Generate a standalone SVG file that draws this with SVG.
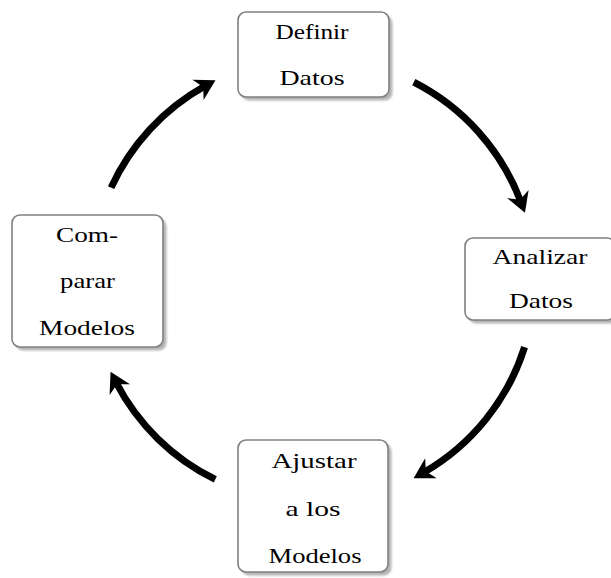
<svg xmlns="http://www.w3.org/2000/svg" width="611" height="578" viewBox="0 0 611 578">
<style>
.box{fill:#fff;stroke:#808080;stroke-width:1.6}
.shadow{fill:#b3b3b3}
.lbl{font-family:"Liberation Serif","DejaVu Serif",serif;font-size:22px;fill:#000;text-anchor:middle}
.arc{fill:none;stroke:#000;stroke-width:7;stroke-linecap:butt}
</style>
<defs>
<filter id="blur" x="-10%" y="-10%" width="120%" height="120%"><feGaussianBlur stdDeviation="1"/></filter>
<marker id="head" markerUnits="userSpaceOnUse" viewBox="-8 -13 24 26" markerWidth="24" markerHeight="26" refX="2" refY="0" orient="auto">
<path d="M-6,-11.5 L14,0 L-6,11.5 L0,0 Z" fill="#000"/>
</marker>
</defs>
<rect width="611" height="578" fill="#fff"/>
<g id="connectors">
<path class="arc" d="M413.8,82.2 A222,222 0 0 1 520.7,201.5" marker-end="url(#head)"/>
<path class="arc" d="M524.6,347.1 A222,222 0 0 1 424,472.3" marker-end="url(#head)"/>
<path class="arc" d="M215.3,479.4 A222,222 0 0 1 116.1,382.5" marker-end="url(#head)"/>
<path class="arc" d="M111.1,187.6 A222,222 0 0 1 205,86" marker-end="url(#head)"/>
</g>
<g id="node-definir">
<rect class="shadow" x="241.5" y="15.5" width="151" height="85" rx="8" filter="url(#blur)"/>
<rect class="box" x="238" y="12" width="151" height="85" rx="8"/>
<text class="lbl" x="312" y="38.5" textLength="73" lengthAdjust="spacingAndGlyphs">Definir</text>
<text class="lbl" x="312" y="85" textLength="65" lengthAdjust="spacingAndGlyphs">Datos</text>
</g>
<g id="node-analizar">
<rect class="shadow" x="468.5" y="241.5" width="150" height="82" rx="8" filter="url(#blur)"/>
<rect class="box" x="465" y="238" width="150" height="82" rx="8"/>
<text class="lbl" x="540" y="264" textLength="95" lengthAdjust="spacingAndGlyphs">Analizar</text>
<text class="lbl" x="541" y="308" textLength="64" lengthAdjust="spacingAndGlyphs">Datos</text>
</g>
<g id="node-ajustar">
<rect class="shadow" x="241.5" y="443.5" width="150" height="132" rx="8" filter="url(#blur)"/>
<rect class="box" x="238" y="440" width="150" height="132" rx="8"/>
<text class="lbl" x="314" y="468" textLength="85" lengthAdjust="spacingAndGlyphs">Ajustar</text>
<text class="lbl" x="313" y="516" textLength="55" lengthAdjust="spacingAndGlyphs">a los</text>
<text class="lbl" x="315" y="563" textLength="93" lengthAdjust="spacingAndGlyphs">Modelos</text>
</g>
<g id="node-comparar">
<rect class="shadow" x="15.5" y="218.5" width="151" height="132" rx="8" filter="url(#blur)"/>
<rect class="box" x="12" y="215" width="151" height="132" rx="8"/>
<text class="lbl" x="87" y="242" textLength="62" lengthAdjust="spacingAndGlyphs">Com-</text>
<text class="lbl" x="87.5" y="288" textLength="55" lengthAdjust="spacingAndGlyphs">parar</text>
<text class="lbl" x="87" y="335" textLength="96" lengthAdjust="spacingAndGlyphs">Modelos</text>
</g>
</svg>
